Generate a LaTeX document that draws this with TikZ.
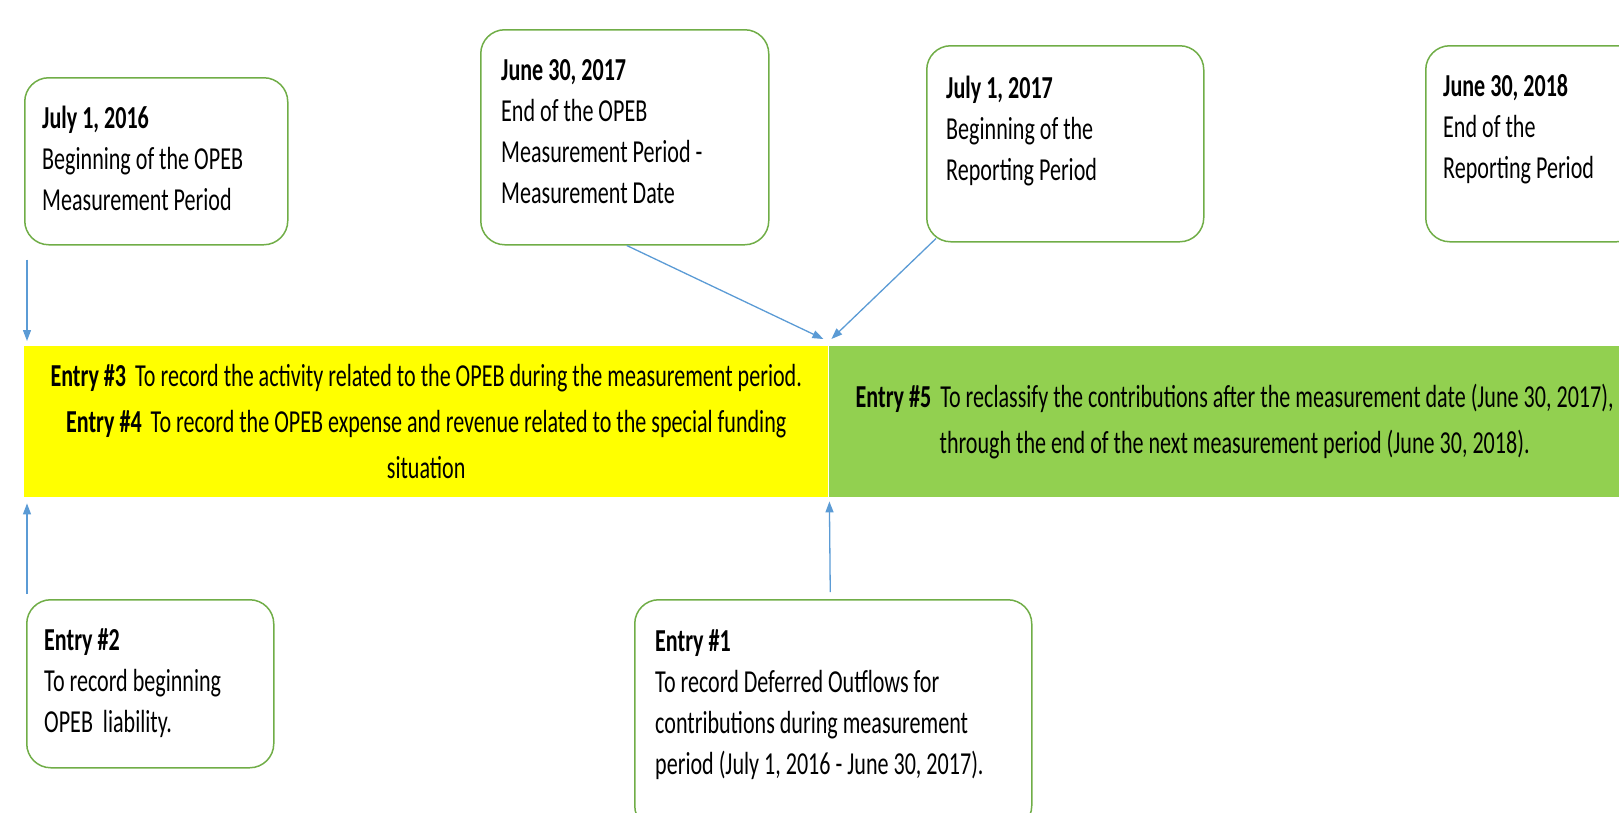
\documentclass[tikz,border=0pt]{standalone}
\usepackage{fontspec}
\setmainfont{Carlito}[FakeStretch=0.69]
\usetikzlibrary{arrows.meta,positioning}
\definecolor{boxgreen}{HTML}{70AD47}
\definecolor{arrowblue}{HTML}{5B9BD5}
\definecolor{bandyellow}{HTML}{FFFF00}
\definecolor{bandgreen}{HTML}{92D050}

\begin{document}
\begin{tikzpicture}[x=1pt,y=-1pt,
    datebox/.style={draw=boxgreen, line width=1.5pt, rounded corners=24pt, anchor=north west, inner sep=0pt},
    boxtext/.style={align=left, inner sep=0pt, font=\fontsize{32}{41}\selectfont},
    band/.style={anchor=north west, inner sep=0pt, align=center, font=\fontsize{32}{46}\selectfont},
    link/.style={draw=arrowblue, line width=1.3pt, -{Triangle[length=11pt,width=8pt]}}]
  \useasboundingbox (0,0) rectangle (1619,812);

  \node[datebox, minimum width=263pt, minimum height=167pt] (jul16) at (24,77) {};
  \node[datebox, minimum width=288pt, minimum height=215pt] (jun17) at (480,29) {};
  \node[datebox, minimum width=277pt, minimum height=196pt] (jul17) at (926,45) {};
  \node[datebox, minimum width=215pt, minimum height=196pt] (jun18) at (1425,45) {};
  \node[datebox, minimum width=247pt, minimum height=168pt] (entry2) at (26,599) {};
  \node[datebox, minimum width=397pt, minimum height=230pt] (entry1) at (634,599) {};

  \node[boxtext, below right=29pt and 18pt of jul16.north west] (jul16txt)
    {\textbf{July 1, 2016}\\Beginning of the OPEB\\Measurement Period};
  \node[boxtext, below right=30pt and 21pt of jun17.north west] (jun17txt)
    {\textbf{June 30, 2017}\\End of the OPEB\\Measurement Period -\\Measurement Date};
  \node[boxtext, below right=31pt and 20pt of jul17.north west] (jul17txt)
    {\textbf{July 1, 2017}\\Beginning of the\\Reporting Period};
  \node[boxtext, below right=29pt and 18pt of jun18.north west] (jun18txt)
    {\textbf{June 30, 2018}\\End of the\\Reporting Period};
  \node[boxtext, below right=29pt and 18pt of entry2.north west] (entry2txt)
    {\textbf{Entry \#2}\\To record beginning\\OPEB\ \ liability.};
  \node[boxtext, below right=30pt and 21pt of entry1.north west] (entry1txt)
    {\textbf{Entry \#1}\\To record Deferred Outflows for\\contributions during measurement\\period (July 1, 2016 - June 30, 2017).};

  \node[band, fill=bandyellow, minimum width=804pt, minimum height=151pt] (meas) at (24,346)
    {\textbf{Entry \#3}\hspace{9pt}To record the activity related to the OPEB during the measurement period.\\
     \textbf{Entry \#4}\hspace{9pt}To record the OPEB expense and revenue related to the special funding\\
     situation};
  \node[band, fill=bandgreen, minimum width=812pt, minimum height=151pt, right=0pt of meas] (report)
    {\textbf{Entry \#5}\hspace{9pt}To reclassify the contributions after the measurement date (June 30, 2017),\\
     through the end of the next measurement period (June 30, 2018).};

  \draw[link] ([shift={(3,14)}]jul16.south west) -- ([shift={(3,-5)}]meas.north west);
  \draw[link] ([shift={(1,-5)}]entry2.north west) -- ([shift={(3,6)}]meas.south west);
  \draw[link] ([xshift=2pt]jun17.south) -- ([shift={(-5,-7)}]meas.north east);
  \draw[link] ([shift={(10,-4)}]jul17.south west) -- ([shift={(3,-7)}]report.north west);
  \draw[link] ([shift={(-3,-7)}]entry1.north) -- ([shift={(1,4)}]meas.south east);
\end{tikzpicture}
\end{document}
